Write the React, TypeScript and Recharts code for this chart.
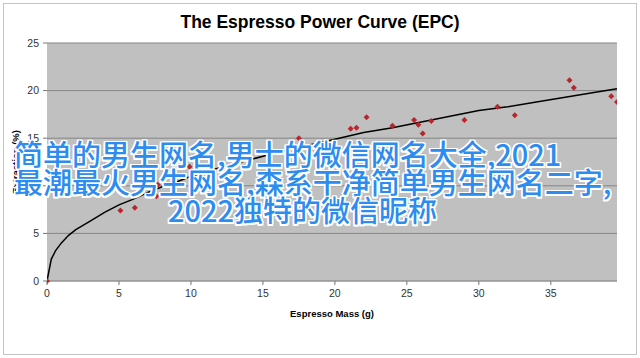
import React from "react";
import { ScatterChart, Scatter, XAxis, YAxis, CartesianGrid } from "recharts";

// measured shots: espresso mass (g) vs extraction (%)
const shotMass = [0, 5.1, 6.1, 6.5, 7.6, 7.7, 9.9, 11.1, 17.5, 18.4, 21.1, 21.5, 22.2, 24.0, 25.5, 25.8, 26.1, 26.7, 29.0, 31.3, 32.5, 36.3, 36.6, 39.2, 39.6];
const shotYield = [0, 7.4, 7.7, 9.4, 8.9, 10.1, 12.0, 10.7, 15.0, 13.9, 16.0, 16.1, 17.2, 16.3, 16.9, 16.4, 15.5, 16.8, 16.9, 18.3, 17.4, 21.1, 20.3, 19.4, 18.8];

// fitted power curve
const curveMass = [0, 0.3, 0.6, 1, 1.5, 2, 3, 4, 5, 6, 7, 8, 9, 10, 12, 14, 16, 18, 20, 22, 24, 26, 28, 30, 32, 34, 36, 38, 39.6];
const curveYield = [0, 2.3, 3.2, 4.0, 4.8, 5.4, 6.3, 7.2, 8.0, 8.6, 9.3, 9.9, 10.4, 11.0, 11.9, 12.7, 13.5, 14.2, 14.9, 15.6, 16.1, 16.7, 17.3, 17.9, 18.3, 18.8, 19.3, 19.8, 20.2];

const xTicks = [0, 5, 10, 15, 20, 25, 30, 35];
const yTicks = [0, 5, 10, 15, 20, 25];

const titleText = "The Espresso Power Curve (EPC)";
const xLabel = "Espresso Mass (g)";
const yLabel = "Extraction (%)";
const overlayLines = [
  "简单的男生网名,男士的微信网名大全,2021",
  "最潮最火男生网名,森系干净简单男生网名二字,",
  "2022独特的微信昵称",
];

const shots = shotMass.map((x, i) => ({ x, y: shotYield[i] }));
const curve = curveMass.map((x, i) => ({ x, y: curveYield[i] }));

const Diamond = (props: any) => {
  const { cx, cy } = props;
  const r = 3;
  return (
    <polygon
      points={`${cx},${cy - r} ${cx + r},${cy} ${cx},${cy + r} ${cx - r},${cy}`}
      fill="#b9252c"
    />
  );
};

const NoDot = () => <g />;

const tickStyle = { fill: "#333", fontSize: 10.5, fontFamily: "Liberation Sans, Arial, sans-serif" };

const outline =
  "-1.5px -1.5px 0 #fff, 1.5px -1.5px 0 #fff, -1.5px 1.5px 0 #fff, 1.5px 1.5px 0 #fff, 0 -1.5px 0 #fff, 0 1.5px 0 #fff, -1.5px 0 0 #fff, 1.5px 0 0 #fff";

const lineStyle: React.CSSProperties = {
  position: "absolute",
  whiteSpace: "nowrap",
  fontFamily: "'Noto Sans CJK SC', sans-serif",
  fontWeight: 500,
  fontSize: 29,
  lineHeight: "29px",
  color: "#2d8cf0",
  textShadow: outline,
};

export default function App() {
  return (
    <div style={{ position: "absolute", left: 0, top: 0, width: 640, height: 358, background: "#fff" }}>
      <div
        style={{
          position: "absolute",
          left: 3,
          top: 3,
          width: 632,
          height: 350,
          border: "1px solid #c4c4c4",
        }}
      />
      <div
        style={{
          position: "absolute",
          left: 0,
          top: 12,
          width: 640,
          textAlign: "center",
          fontFamily: "Liberation Sans, Arial, sans-serif",
          fontWeight: 700,
          fontSize: 17.5,
          color: "#000",
        }}
      >
        {titleText}
      </div>
      <ScatterChart width={640} height={358} margin={{ top: 43, right: 23, left: 0, bottom: 0 }} style={{ position: "absolute", left: 0, top: 0 }}>
        <CartesianGrid vertical={false} fill="#c0c0c0" stroke="#858585" />
        <XAxis
          type="number"
          dataKey="x"
          domain={[0, 39.6]}
          ticks={xTicks}
          allowDataOverflow
          height={77}
          tickSize={4}
          tickMargin={5}
          tick={tickStyle}
          axisLine={{ stroke: "#9a9a9a" }}
          tickLine={{ stroke: "#777" }}
          label={{
            value: xLabel,
            position: "insideBottom",
            offset: 41,
            style: { fill: "#000", fontSize: 9.5, fontWeight: 700, fontFamily: "Liberation Sans, Arial, sans-serif" },
          }}
        />
        <YAxis
          type="number"
          dataKey="y"
          domain={[0, 25]}
          ticks={yTicks}
          width={47}
          tickSize={4}
          tickMargin={4}
          tick={tickStyle}
          axisLine={false}
          tickLine={{ stroke: "#777" }}
          label={{
            value: yLabel,
            angle: -90,
            position: "insideLeft",
            offset: 16,
            style: { fill: "#000", fontSize: 9.5, fontWeight: 700, fontFamily: "Liberation Sans, Arial, sans-serif", textAnchor: "middle" },
          }}
        />
        <Scatter
          data={curve}
          line={{ stroke: "#000", strokeWidth: 1.5 }}
          lineType="joint"
          shape={NoDot}
          isAnimationActive={false}
        />
        <Scatter data={shots} shape={Diamond} isAnimationActive={false} />
      </ScatterChart>
      <div style={{ ...lineStyle, left: 14, top: 139 }}>{overlayLines[0]}</div>
      <div style={{ ...lineStyle, left: 14, top: 167 }}>{overlayLines[1]}</div>
      <div style={{ ...lineStyle, left: 168, top: 195 }}>{overlayLines[2]}</div>
    </div>
  );
}
